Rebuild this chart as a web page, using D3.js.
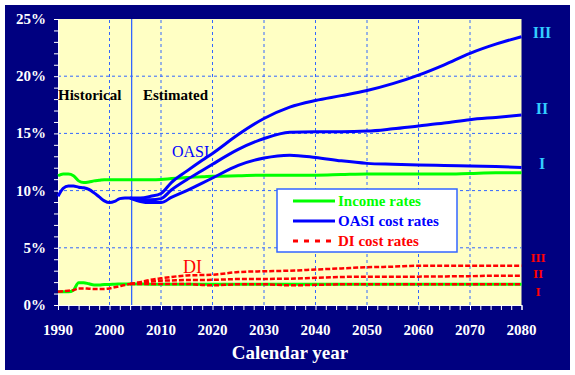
<!DOCTYPE html>
<html>
<head>
<meta charset="utf-8">
<script src="https://cdn.jsdelivr.net/npm/d3@7"></script>
<style>
  body { margin:0; background:#fff; }
  text { font-family:"Liberation Serif","Times New Roman",serif; }
</style>
</head>
<body>
<div class="chart"></div>
<script>
// historical years (single lines)
var histYears = [1990,1991,1992,1993,1994,1995,1996,1997,1998,1999,2000,2001,2002,2003,2004];
var oasiIncomeHist = [11.3,11.45,11.45,11.3,10.85,10.7,10.75,10.85,10.9,10.95,10.95,10.95,10.95,10.95,10.95];
var oasiCostHist   = [9.5,10.2,10.4,10.4,10.3,10.25,10.1,9.8,9.45,9.1,8.95,9.05,9.3,9.35,9.35];
var diIncomeHist   = [1.15,1.15,1.15,1.3,1.95,1.95,1.85,1.75,1.75,1.8,1.8,1.82,1.83,1.84,1.84];
var diCostHist     = [1.15,1.2,1.25,1.3,1.45,1.45,1.42,1.4,1.4,1.4,1.45,1.55,1.65,1.75,1.84];

// projected years (alternatives I, II, III)
var projYears = [2004,2006,2008,2010,2012,2015,2018,2020,2025,2030,2035,2040,2045,2050,2055,2060,2065,2070,2075,2080];
var oasiIncomeProj = [10.95,10.95,10.95,10.97,11.05,11.15,11.2,11.25,11.3,11.35,11.35,11.35,11.4,11.45,11.45,11.45,11.45,11.5,11.55,11.55];
var diIncomeProj   = [1.84,1.83,1.82,1.82,1.82,1.82,1.82,1.82,1.82,1.82,1.82,1.82,1.82,1.82,1.82,1.82,1.82,1.82,1.82,1.82];
var oasiCostI   = [9.35,9.05,8.95,8.95,9.4,10.0,10.65,11.1,12.2,12.85,13.1,12.9,12.6,12.38,12.3,12.24,12.2,12.15,12.1,12.03];
var oasiCostII  = [9.35,9.2,9.2,9.3,10.05,10.95,11.75,12.3,13.6,14.55,15.1,15.15,15.15,15.2,15.4,15.65,15.9,16.2,16.4,16.6];
var oasiCostIII = [9.35,9.35,9.5,9.75,10.7,11.7,12.65,13.25,14.9,16.3,17.3,17.88,18.3,18.75,19.35,20.1,21.0,22.0,22.8,23.45];
var diCostI   = [1.84,1.84,1.84,1.84,1.84,1.84,1.75,1.72,1.81,1.81,1.72,1.76,1.81,1.81,1.81,1.81,1.81,1.81,1.81,1.81];
var diCostII  = [1.84,1.95,2.05,2.13,2.15,2.18,2.19,2.2,2.27,2.28,2.3,2.38,2.45,2.48,2.48,2.48,2.5,2.52,2.56,2.56];
var diCostIII = [1.84,2.0,2.2,2.33,2.45,2.58,2.62,2.65,2.88,2.95,3.0,3.1,3.2,3.3,3.35,3.44,3.44,3.44,3.44,3.44];

var yTicks = [0,5,10,15,20,25];
var xTicks = [1990,2000,2010,2020,2030,2040,2050,2060,2070,2080];
var altLabels = ["I","II","III"];

var W = 575, H = 375;
var svg = d3.select(".chart").append("svg").attr("width",W).attr("height",H);

svg.append("rect").attr("x",5).attr("y",5).attr("width",565).attr("height",365).style("fill","#000080");

var x = d3.scaleLinear().domain([1990,2080]).range([58,521.5]);
var y = d3.scaleLinear().domain([0,25]).range([305,19]);

svg.append("rect").attr("x",x(1990)).attr("y",y(25))
   .attr("width",x(2080)-x(1990)).attr("height",y(0)-y(25))
   .style("fill","#ffffc4");

// grid
var grid = svg.append("g");
grid.selectAll(".gx").data(xTicks.slice(1,-1)).enter().append("line")
    .attr("x1",function(d){return x(d);}).attr("x2",function(d){return x(d);})
    .attr("y1",y(0)).attr("y2",y(25))
    .style("stroke","#3366ff").style("stroke-width",1).style("stroke-dasharray","3,3");
grid.selectAll(".gy").data(yTicks.slice(1,-1)).enter().append("line")
    .attr("x1",x(1990)).attr("x2",x(2080))
    .attr("y1",function(d){return y(d);}).attr("y2",function(d){return y(d);})
    .style("stroke","#3366ff").style("stroke-width",1).style("stroke-dasharray","3,3");

// historical / estimated divider
svg.append("line").attr("x1",x(2004.3)).attr("x2",x(2004.3)).attr("y1",y(0)).attr("y2",y(25))
   .style("stroke","#3366ff").style("stroke-width",1.3);

// axes
var yAxis = d3.axisLeft(y).ticks(25).tickSize(4).tickFormat("");
var gy = svg.append("g").attr("transform","translate("+x(1990)+",0)").call(yAxis);
var xAxis = d3.axisBottom(x).ticks(45).tickSize(5).tickFormat("");
var gx = svg.append("g").attr("transform","translate(0,"+y(0)+")").call(xAxis);
[gx,gy].forEach(function(g){
  g.selectAll("line").style("stroke","#fff");
  g.select(".domain").style("stroke","#fff");
});

svg.selectAll(".ylab").data(yTicks).enter().append("text")
   .attr("x",46).attr("y",function(d){return y(d)+5;})
   .style("text-anchor","end").style("fill","#fff").style("font-weight","bold").style("font-size","15px")
   .text(function(d){return d+"%";});
svg.selectAll(".xlab").data(xTicks).enter().append("text")
   .attr("x",function(d){return x(d);}).attr("y",335)
   .style("text-anchor","middle").style("fill","#fff").style("font-weight","bold").style("font-size","15px")
   .text(function(d){return d;});
svg.append("text").attr("x",290).attr("y",359).style("text-anchor","middle")
   .style("fill","#fff").style("font-weight","bold").style("font-size","19px").text("Calendar year");

function pts(years, vals){ return years.map(function(yr,i){ return [yr, vals[i]]; }); }
var line = d3.line().x(function(d){return x(d[0]);}).y(function(d){return y(d[1]);}).curve(d3.curveMonotoneX);

function draw(data, color, width, dash){
  svg.append("path").datum(data).attr("d",line)
     .style("fill","none").style("stroke",color).style("stroke-width",width)
     .style("stroke-dasharray",dash || null);
}

// income rates
draw(pts(histYears,oasiIncomeHist).concat(pts(projYears.slice(1),oasiIncomeProj.slice(1))),"#00ff00",3);
draw(pts(histYears,diIncomeHist).concat(pts(projYears.slice(1),diIncomeProj.slice(1))),"#00ff00",3);

// OASI costs
draw(pts(histYears,oasiCostHist),"#0000ff",3);
[oasiCostI,oasiCostII,oasiCostIII].forEach(function(v){ draw(pts(projYears,v),"#0000ff",3); });

// DI costs
draw(pts(histYears,diCostHist),"#ff0000",2.5,"5,2");
[diCostI,diCostII,diCostIII].forEach(function(v){ draw(pts(projYears,v),"#ff0000",2.5,"5,2"); });

// annotations
svg.append("text").attr("x",58).attr("y",100).style("font-weight","bold").style("font-size","15px").text("Historical");
svg.append("text").attr("x",143).attr("y",100).style("font-weight","bold").style("font-size","15px").text("Estimated");
svg.append("text").attr("x",172).attr("y",157).style("fill","#0000ff").style("font-size","16px").text("OASI");
svg.append("text").attr("x",183).attr("y",273).style("fill","#ff0000").style("font-size","18px").text("DI");

// alternative labels on the right
var oasiEnds = [oasiCostI,oasiCostII,oasiCostIII].map(function(v){return v[v.length-1];});
var oasiOff = [2,-1,1];
svg.selectAll(".olab").data(altLabels).enter().append("text")
   .attr("x",542).attr("y",function(d,i){return y(oasiEnds[i])+oasiOff[i];})
   .style("text-anchor","middle").style("fill","#33ccff").style("font-weight","bold").style("font-size","16px")
   .text(function(d){return d;});
var diEnds = [diCostI,diCostII,diCostIII].map(function(v){return v[v.length-1];});
var diOff = [12,2,-4];
svg.selectAll(".dlab").data(altLabels).enter().append("text")
   .attr("x",538).attr("y",function(d,i){return y(diEnds[i])+diOff[i];})
   .style("text-anchor","middle").style("fill","#ff0000").style("font-weight","bold").style("font-size","13px")
   .text(function(d){return d;});

// legend
var legend = svg.append("g");
legend.append("rect").attr("x",277).attr("y",189).attr("width",180).attr("height",63)
      .style("fill","#fff").style("stroke","#3366ff").style("stroke-width",1.5);
var legItems = [
  {label:"Income rates", color:"#00ff00", dash:null},
  {label:"OASI cost rates", color:"#0000ff", dash:null},
  {label:"DI cost rates", color:"#ff0000", dash:"5,6"}
];
legItems.forEach(function(d,i){
  var yy = 201 + i*20;
  legend.append("line").attr("x1",293).attr("x2",335).attr("y1",yy).attr("y2",yy)
        .style("stroke",d.color).style("stroke-width",3).style("stroke-dasharray",d.dash);
  legend.append("text").attr("x",338).attr("y",yy+5).style("fill",d.color)
        .style("font-weight","bold").style("font-size","15px").text(d.label);
});
</script>
</body>
</html>
